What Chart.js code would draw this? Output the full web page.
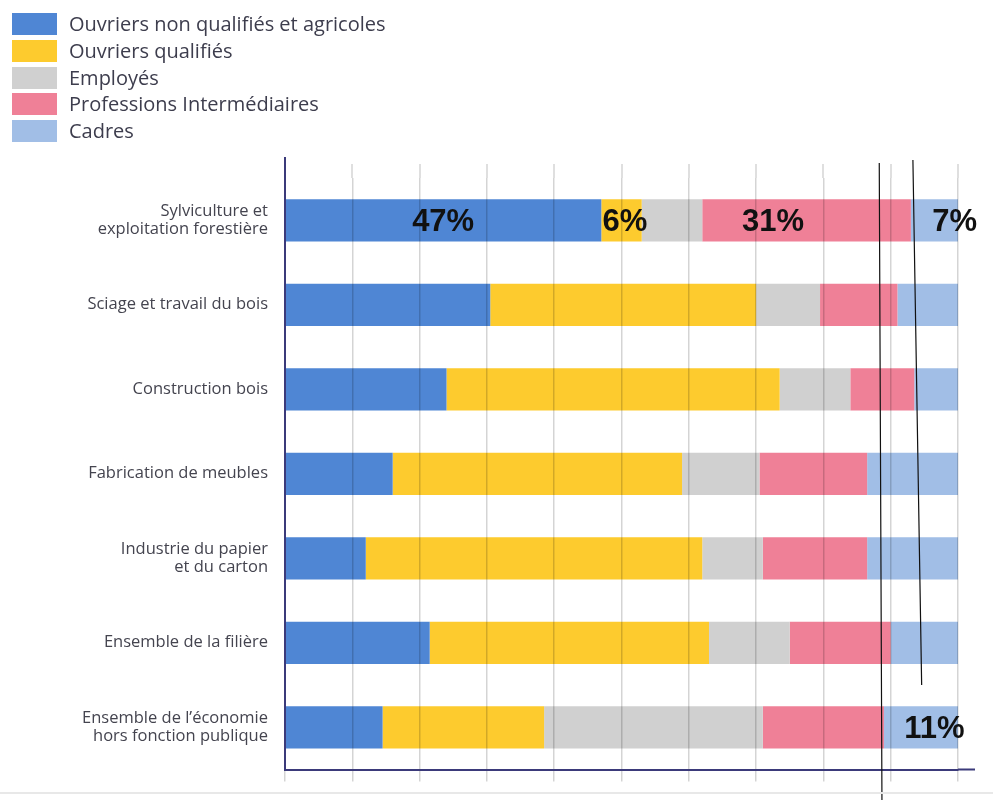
<!DOCTYPE html>
<html>
<head>
<meta charset="utf-8">
<script src="https://cdn.jsdelivr.net/npm/chart.js@4.4.0/dist/chart.umd.min.js"></script>
<style>
  body { margin: 0; background: #fff; }
  #wrap { position: relative; width: 993px; height: 800px; }
  #legend { position: absolute; left: 12px; top: 13px; font-family: "Open Sans", sans-serif; font-size: 20px; color: #3d3d4d; }
  .item { display: flex; align-items: center; height: 22px; line-height: 22px; margin-bottom: 4.75px; white-space: nowrap; }
  .box { width: 45px; height: 22px; margin-right: 12px; flex: none; }
  #sep { position: absolute; left: 0; top: 792px; width: 993px; height: 2px; background: #e8e8e8; }
</style>
</head>
<body>
<div id="wrap">
  <canvas id="chart" width="993" height="800"></canvas>
  <div id="legend"></div>
  <div id="sep"></div>
</div>
<script>
const categories = [
    ['Sylviculture et', 'exploitation forestière'],
    'Sciage et travail du bois',
    'Construction bois',
    'Fabrication de meubles',
    ['Industrie du papier', 'et du carton'],
    'Ensemble de la filière',
    ['Ensemble de l’économie', 'hors fonction publique']
];
const seriesNames = ['Ouvriers non qualifiés et agricoles', 'Ouvriers qualifiés', 'Employés', 'Professions Intermédiaires', 'Cadres'];
const ouvriersNonQualifies = [47, 30.5, 24, 16, 12, 21.5, 14.5];
const ouvriersQualifies = [6, 39.5, 49.5, 43, 50, 41.5, 24];
const employes = [9, 9.5, 10.5, 11.5, 9, 12, 32.5];
const professionsIntermediaires = [31, 11.5, 9.5, 16, 15.5, 15, 18];
const cadres = [7, 9, 6.5, 13.5, 13.5, 10, 11];
// [series, row] of the segments with a bold % label
const highlighted = [[0, 0], [1, 0], [3, 0], [4, 0], [4, 6]];

const colors = ['#4f86d4', '#fdcb2e', '#d0d0d0', '#ef8097', '#a1bee6'];
const seriesValues = [ouvriersNonQualifies, ouvriersQualifies, employes, professionsIntermediaires, cadres];

const axisColor = '#3b3a7a';
const gridColor = 'rgba(0,0,0,0.17)';

const overlay = {
    id: 'overlay',
    afterDraw(chart) {
        const { ctx, chartArea, scales: { x, y } } = chart;
        ctx.save();
        // grid lines and axes reach a bit above / past the plot area
        ctx.strokeStyle = gridColor;
        ctx.lineWidth = 1.5;
        ctx.beginPath();
        x.ticks.forEach(t => {
            const px = Math.round(x.getPixelForValue(t.value));
            ctx.moveTo(px, chartArea.top - 14);
            ctx.lineTo(px, chartArea.top);
        });
        ctx.stroke();
        ctx.strokeStyle = axisColor;
        ctx.lineWidth = 2;
        ctx.beginPath();
        ctx.moveTo(chartArea.left, chartArea.top - 21);
        ctx.lineTo(chartArea.left, chartArea.top);
        ctx.moveTo(chartArea.right, chartArea.bottom);
        ctx.lineTo(chartArea.right + 17, chartArea.bottom);
        ctx.stroke();

        // bold percentage labels
        const nudge = [0, 0.5, -5, 3, 2];
        ctx.fillStyle = '#111';
        ctx.font = 'bold 31px "Liberation Sans", Arial, sans-serif';
        ctx.textAlign = 'center';
        ctx.textBaseline = 'middle';
        highlighted.forEach(([s, r], i) => {
            let start = 0;
            for (let k = 0; k < s; k++) start += seriesValues[k][r];
            const v = seriesValues[s][r];
            const px = x.getPixelForValue(start + v / 2 + nudge[i]);
            ctx.fillText(v + '%', px, y.getPixelForValue(r) + 2);
        });

        // hand-drawn marker lines
        ctx.strokeStyle = '#111';
        ctx.lineWidth = 1.2;
        ctx.beginPath();
        ctx.moveTo(x.getPixelForValue(88.3), chartArea.top - 15);
        ctx.lineTo(x.getPixelForValue(88.7), chart.height);
        ctx.moveTo(x.getPixelForValue(93.3), chartArea.top - 18);
        ctx.lineTo(x.getPixelForValue(94.6), y.getPixelForValue(5.5));
        ctx.stroke();
        ctx.restore();
    }
};

const chart = new Chart(document.getElementById('chart').getContext('2d'), {
    type: 'bar',
    data: {
        labels: categories,
        datasets: seriesNames.map((name, i) => ({
            label: name,
            data: seriesValues[i],
            backgroundColor: colors[i],
            borderWidth: 0,
            barPercentage: 0.5,
            categoryPercentage: 1
        }))
    },
    options: {
        indexAxis: 'y',
        responsive: false,
        animation: false,
        layout: { padding: { top: 178, right: 35, left: 0, bottom: 0 } },
        plugins: {
            legend: { display: false },
            tooltip: { enabled: false }
        },
        scales: {
            x: {
                stacked: true,
                min: 0,
                max: 100,
                ticks: { display: false, stepSize: 10 },
                grid: { color: gridColor, lineWidth: 1.5, tickLength: 12, z: 1 },
                border: { color: axisColor, width: 2, z: 2 },
                afterFit(scale) { scale.height = 30.5; }
            },
            y: {
                stacked: true,
                grid: { display: false, drawTicks: false },
                border: { display: true, color: axisColor, width: 2, z: 2 },
                ticks: {
                    color: '#44444f',
                    padding: 17,
                    font: { family: '"Open Sans", sans-serif', size: 16.5, lineHeight: 1.1 }
                },
                afterFit(scale) {
                    scale.width = 285;
                    scale.paddingTop = 0;
                    scale.paddingBottom = 0;
                }
            }
        }
    },
    plugins: [overlay]
});

const legend = document.getElementById('legend');
chart.data.datasets.forEach(ds => {
    const item = document.createElement('div');
    item.className = 'item';
    const box = document.createElement('span');
    box.className = 'box';
    box.style.background = ds.backgroundColor;
    item.appendChild(box);
    item.appendChild(document.createTextNode(ds.label));
    legend.appendChild(item);
});
</script>
</body>
</html>
